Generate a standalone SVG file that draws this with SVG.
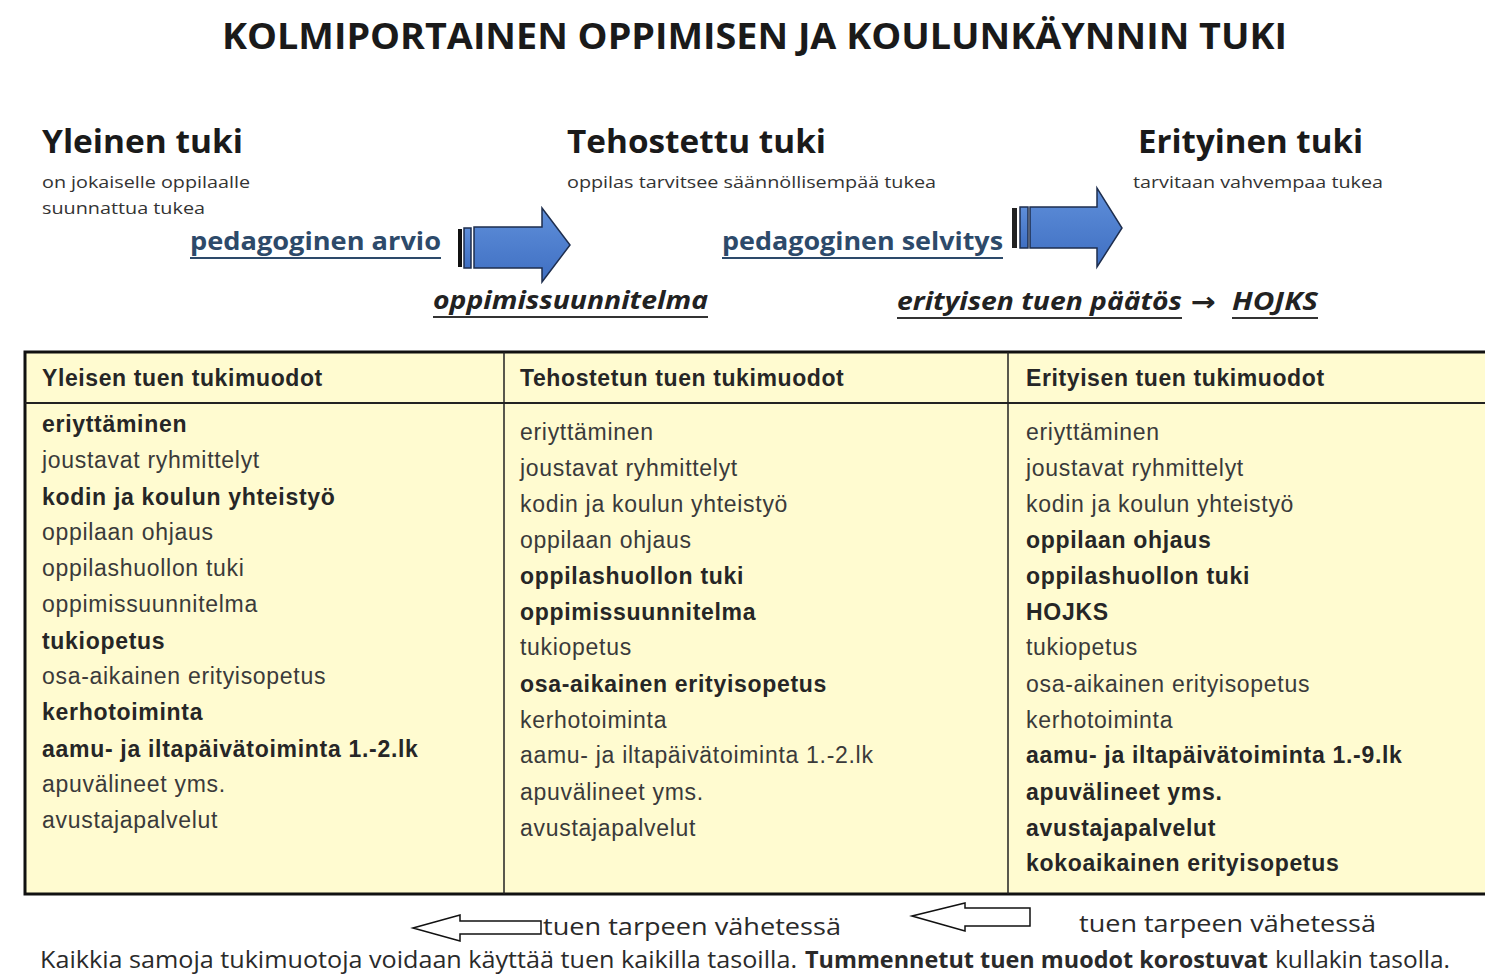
<svg xmlns="http://www.w3.org/2000/svg" width="1485" height="977" viewBox="0 0 1485 977">
<style>
.cal{font-family:"Open Sans","Noto Sans","Liberation Sans",sans-serif}
.title{font-size:36px;font-weight:700;fill:#1a1a1a}
.h1{font-size:33px;font-weight:700;fill:#1a1a1a}
.sub{font-size:16px;fill:#333}
.link{font-size:25px;font-weight:700;fill:#2d4a6a}
.ital{font-size:25px;font-weight:700;font-style:italic;fill:#222}
.ar{font-family:"Liberation Sans",Arial,sans-serif;font-size:23px;letter-spacing:0.7px;fill:#3a3a3a}
.b{font-weight:700;fill:#262626}
.hd{font-family:"Liberation Sans",Arial,sans-serif;font-size:23px;letter-spacing:0.6px;font-weight:700;fill:#262626}
.bot{font-size:23px;fill:#2a2a2a}
.ul{stroke:#2d4a6a;stroke-width:2}
.ul2{stroke:#333;stroke-width:2}
.blue{fill:url(#g);stroke:#1e2e4e;stroke-width:1.5}
.hollow{fill:#fff;stroke:#111;stroke-width:1.5}
</style>
<defs>
<linearGradient id="g" x1="0" y1="0" x2="0" y2="1">
<stop offset="0" stop-color="#5f8fda"/>
<stop offset="1" stop-color="#3f6fc2"/>
</linearGradient>
</defs>
<rect width="1485" height="977" fill="#fff"/>

<g id="title">
<text class="cal title" x="222" y="49" textLength="1065" lengthAdjust="spacingAndGlyphs">KOLMIPORTAINEN OPPIMISEN JA KOULUNKÄYNNIN TUKI</text>
</g>

<g id="yleinen">
<text class="cal h1" x="42" y="153" textLength="201" lengthAdjust="spacingAndGlyphs">Yleinen tuki</text>
<text class="cal sub" x="42" y="188" textLength="208" lengthAdjust="spacingAndGlyphs">on jokaiselle oppilaalle</text>
<text class="cal sub" x="42" y="214" textLength="163" lengthAdjust="spacingAndGlyphs">suunnattua tukea</text>
</g>

<g id="tehostettu">
<text class="cal h1" x="567" y="153" textLength="259" lengthAdjust="spacingAndGlyphs">Tehostettu tuki</text>
<text class="cal sub" x="567" y="188" textLength="369" lengthAdjust="spacingAndGlyphs">oppilas tarvitsee säännöllisempää tukea</text>
</g>

<g id="erityinen">
<text class="cal h1" x="1138" y="153" textLength="225" lengthAdjust="spacingAndGlyphs">Erityinen tuki</text>
<text class="cal sub" x="1133" y="188" textLength="250" lengthAdjust="spacingAndGlyphs">tarvitaan vahvempaa tukea</text>
</g>

<g id="pedagoginen-arvio">
<text class="cal link" x="190" y="250" textLength="251" lengthAdjust="spacingAndGlyphs">pedagoginen arvio</text>
<line class="ul" x1="190" y1="258" x2="441" y2="258"/>
</g>

<g id="oppimissuunnitelma">
<text class="cal ital" x="433" y="309" textLength="275" lengthAdjust="spacingAndGlyphs">oppimissuunnitelma</text>
<line class="ul2" x1="433" y1="317" x2="708" y2="317"/>
</g>

<g id="pedagoginen-selvitys">
<text class="cal link" x="722" y="250" textLength="281" lengthAdjust="spacingAndGlyphs">pedagoginen selvitys</text>
<line class="ul" x1="722" y1="258" x2="1003" y2="258"/>
</g>

<g id="paatos">
<text class="cal ital" x="897" y="310" textLength="285" lengthAdjust="spacingAndGlyphs">erityisen tuen päätös</text>
<line class="ul2" x1="897" y1="318" x2="1182" y2="318"/>
<text x="1191" y="311" font-family="DejaVu Sans,sans-serif" font-size="26" font-weight="700" fill="#222" textLength="25" lengthAdjust="spacingAndGlyphs">→</text>
<text class="cal ital" x="1232" y="310" textLength="86" lengthAdjust="spacingAndGlyphs">HOJKS</text>
<line class="ul2" x1="1232" y1="318" x2="1318" y2="318"/>
</g>

<g id="connectors">
<rect x="458" y="229" width="4" height="38" fill="#111"/>
<rect x="464" y="228" width="7" height="40" class="blue" stroke="#111"/>
<path class="blue" d="M474,227 L542,227 L542,208 L570,245 L542,282 L542,268 L474,268 Z"/>
<rect x="1012" y="208" width="5" height="40" fill="#222"/>
<rect x="1020" y="207" width="8" height="41" class="blue" stroke="#111"/>
<path class="blue" d="M1030,207 L1097,207 L1097,188 L1122,228 L1097,267 L1097,248 L1030,248 Z"/>
<path class="hollow" d="M413,928 L460,915 L460,921 L541,921 L541,934 L460,934 L460,941 Z"/>
<path class="hollow" d="M912,916 L965,903 L965,908 L1030,908 L1030,926 L965,926 L965,931 Z"/>
</g>

<g id="table">
<rect x="25" y="352" width="1470" height="542" fill="#fffbd0" stroke="#111" stroke-width="3"/>
<line x1="25" y1="403" x2="1485" y2="403" stroke="#222" stroke-width="2"/>
<line x1="504" y1="352" x2="504" y2="894" stroke="#222" stroke-width="1.5"/>
<line x1="1008" y1="352" x2="1008" y2="894" stroke="#222" stroke-width="1.5"/>
</g>

<g id="col-yleisen">
<text class="hd" x="42" y="386">Yleisen tuen tukimuodot</text>
<text class="ar b" x="42" y="432">eriyttäminen</text>
<text class="ar" x="42" y="468">joustavat ryhmittelyt</text>
<text class="ar b" x="42" y="505">kodin ja koulun yhteistyö</text>
<text class="ar" x="42" y="540">oppilaan ohjaus</text>
<text class="ar" x="42" y="576">oppilashuollon tuki</text>
<text class="ar" x="42" y="612">oppimissuunnitelma</text>
<text class="ar b" x="42" y="649">tukiopetus</text>
<text class="ar" x="42" y="684">osa-aikainen erityisopetus</text>
<text class="ar b" x="42" y="720">kerhotoiminta</text>
<text class="ar b" x="42" y="757">aamu- ja iltapäivätoiminta 1.-2.lk</text>
<text class="ar" x="42" y="792">apuvälineet yms.</text>
<text class="ar" x="42" y="828">avustajapalvelut</text>
</g>

<g id="col-tehostetun">
<text class="hd" x="520" y="386">Tehostetun tuen tukimuodot</text>
<text class="ar" x="520" y="440">eriyttäminen</text>
<text class="ar" x="520" y="476">joustavat ryhmittelyt</text>
<text class="ar" x="520" y="512">kodin ja koulun yhteistyö</text>
<text class="ar" x="520" y="548">oppilaan ohjaus</text>
<text class="ar b" x="520" y="584">oppilashuollon tuki</text>
<text class="ar b" x="520" y="620">oppimissuunnitelma</text>
<text class="ar" x="520" y="655">tukiopetus</text>
<text class="ar b" x="520" y="692">osa-aikainen erityisopetus</text>
<text class="ar" x="520" y="728">kerhotoiminta</text>
<text class="ar" x="520" y="763">aamu- ja iltapäivätoiminta 1.-2.lk</text>
<text class="ar" x="520" y="800">apuvälineet yms.</text>
<text class="ar" x="520" y="836">avustajapalvelut</text>
</g>

<g id="col-erityisen">
<text class="hd" x="1026" y="386">Erityisen tuen tukimuodot</text>
<text class="ar" x="1026" y="440">eriyttäminen</text>
<text class="ar" x="1026" y="476">joustavat ryhmittelyt</text>
<text class="ar" x="1026" y="512">kodin ja koulun yhteistyö</text>
<text class="ar b" x="1026" y="548">oppilaan ohjaus</text>
<text class="ar b" x="1026" y="584">oppilashuollon tuki</text>
<text class="ar b" x="1026" y="620">HOJKS</text>
<text class="ar" x="1026" y="655">tukiopetus</text>
<text class="ar" x="1026" y="692">osa-aikainen erityisopetus</text>
<text class="ar" x="1026" y="728">kerhotoiminta</text>
<text class="ar b" x="1026" y="763">aamu- ja iltapäivätoiminta 1.-9.lk</text>
<text class="ar b" x="1026" y="800">apuvälineet yms.</text>
<text class="ar b" x="1026" y="836">avustajapalvelut</text>
<text class="ar b" x="1026" y="871">kokoaikainen erityisopetus</text>
</g>

<g id="bottom">
<text class="cal bot" x="543" y="935" textLength="298" lengthAdjust="spacingAndGlyphs">tuen tarpeen vähetessä</text>
<text class="cal bot" x="1079" y="932" textLength="297" lengthAdjust="spacingAndGlyphs">tuen tarpeen vähetessä</text>
<text class="cal bot" x="40" y="968" textLength="757" lengthAdjust="spacingAndGlyphs">Kaikkia samoja tukimuotoja voidaan käyttää tuen kaikilla tasoilla.</text>
<text class="cal bot" x="805" y="968" font-weight="700" textLength="463" lengthAdjust="spacingAndGlyphs">Tummennetut tuen muodot korostuvat</text>
<text class="cal bot" x="1275" y="968" textLength="175" lengthAdjust="spacingAndGlyphs">kullakin tasolla.</text>
</g>
</svg>
